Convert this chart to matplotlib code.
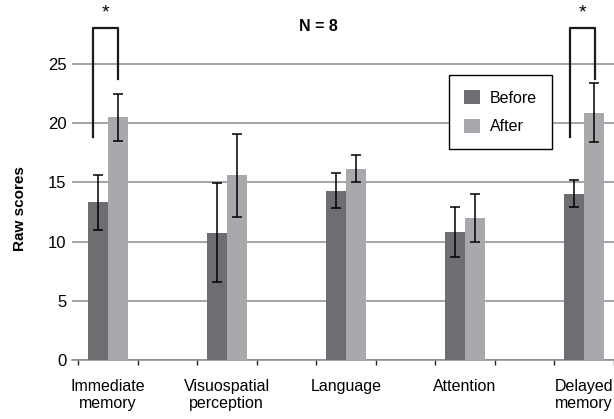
import matplotlib.pyplot as plt
import numpy as np

# donnees
categories = ["Immediate\nmemory", "Visuospatial\nperception", "Language", "Attention", "Delayed\nmemory"]
before = [13.3, 10.75, 14.3, 10.8, 14.05]
before_err = [2.3, 4.2, 1.5, 2.1, 1.15]
after = [20.5, 15.6, 16.15, 12.0, 20.9]
after_err = [2.0, 3.5, 1.15, 2.0, 2.5]
signif = [0, 4]  # categories avec *

plt.rcParams['font.family'] = ['Liberation Sans', 'DejaVu Sans']

fig = plt.figure(figsize=(6.14, 4.19), dpi=100)
ax = fig.add_axes([72 / 614, 59 / 419, 542 / 614, 360 / 419])

x = np.arange(len(categories))
w = 0.168
ax.bar(x - w / 2, before, w, color='#6d6e71', label='Before', zorder=3)
ax.bar(x + w / 2, after, w, color='#a7a9ac', label='After', zorder=3)
ax.errorbar(x - w / 2, before, yerr=before_err, fmt='none', ecolor='black',
            elinewidth=1.1, capsize=3.5, capthick=1.1, zorder=4)
ax.errorbar(x + w / 2, after, yerr=after_err, fmt='none', ecolor='black',
            elinewidth=1.1, capsize=3.5, capthick=1.1, zorder=4)

# crochets de significativite
for i in signif:
    xl, xr = i - 0.12, i + 0.09
    ax.plot([xl, xl, xr, xr], [18.8, 28.0, 28.0, 23.7], color='#1a1a1a',
            lw=1.6, clip_on=False, zorder=5)
    ax.text((xl + xr) / 2, 28.6, '*', ha='center', va='bottom', fontsize=14,
            clip_on=False)

ax.text(2 - 0.23, 28.2, 'N = 8', ha='center', va='center', fontsize=11.5,
        fontweight='bold')

ax.set_xlim(-0.30, 4.25)
ax.set_ylim(0, 30.4)
ax.set_yticks([0, 5, 10, 15, 20, 25])
ax.yaxis.grid(True, color='#8c8c8c', lw=1.1, zorder=0)
ax.set_axisbelow(True)
ax.tick_params(axis='y', length=0, pad=4, labelsize=12)

ax.set_xticks(x)
ax.set_xticklabels(categories, fontsize=11.5, linespacing=1.15)
ax.tick_params(axis='x', which='major', length=0, pad=14)
ax.set_xticks(np.concatenate([x - 0.252, x + 0.252]), minor=True)
ax.tick_params(axis='x', which='minor', length=3.6, width=1, color='#222222',
               direction='out')

for s in ['top', 'right', 'left']:
    ax.spines[s].set_visible(False)
ax.spines['bottom'].set_color('#8c8c8c')
ax.spines['bottom'].set_linewidth(1.1)

ax.set_ylabel('Raw scores', fontsize=11, fontweight='bold')
ax.yaxis.set_label_coords(-45 / 542, 0.42)

leg = ax.legend(loc='upper left', bbox_to_anchor=(449 / 614, 1 - 75 / 419),
                bbox_transform=fig.transFigure, borderaxespad=0, fontsize=11.5,
                handlelength=1.0, handleheight=1.0, handletextpad=0.6,
                labelspacing=0.8, borderpad=0.95, fancybox=False,
                edgecolor='black', framealpha=1)
leg.get_frame().set_linewidth(1.0)
leg.set_zorder(6)

fig.savefig('out.png', dpi=100)
